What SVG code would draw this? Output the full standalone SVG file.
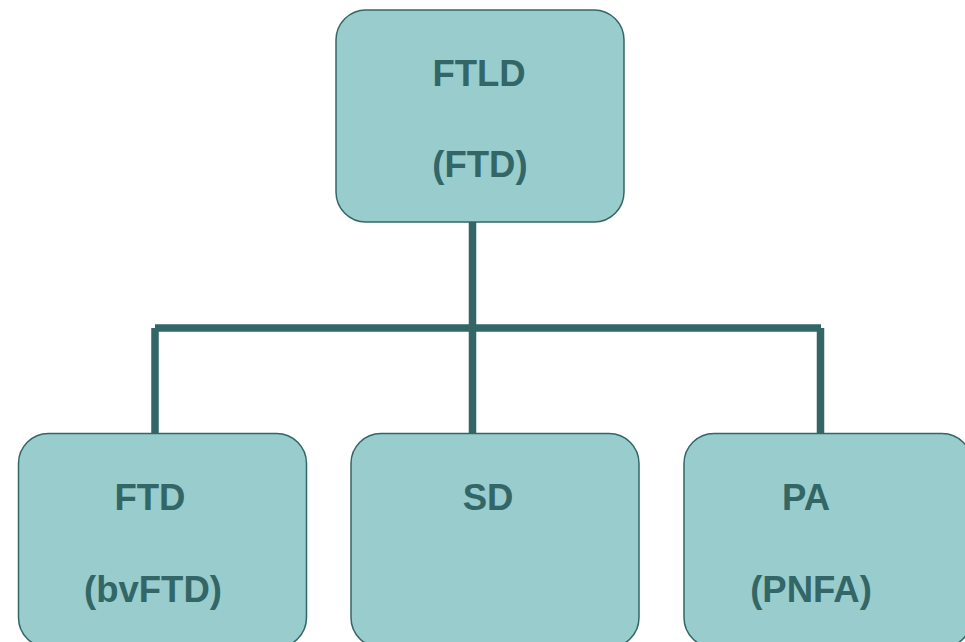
<svg xmlns="http://www.w3.org/2000/svg" width="965" height="642" viewBox="0 0 965 642">
<style>
.box{fill:#99CCCC;stroke:#336666;stroke-width:1.5}
.t{font-family:"Liberation Sans",Arial,sans-serif;font-weight:bold;font-size:36.5px;fill:#336666;text-anchor:middle}
.c{stroke:#336666;stroke-width:7.5;fill:none}
</style>
<rect width="965" height="642" fill="#ffffff"/>
<g id="connectors">
<line class="c" x1="472.5" y1="222" x2="472.5" y2="434"/>
<line class="c" x1="155" y1="328" x2="821" y2="328"/>
<line class="c" x1="155" y1="328" x2="155" y2="434"/>
<line class="c" x1="820.5" y1="328" x2="820.5" y2="434"/>
</g>
<g id="node-ftld">
<rect class="box" x="336" y="10" width="288" height="212" rx="30"/>
<text class="t" x="479" y="86">FTLD</text>
<text class="t" x="480" y="177">(FTD)</text>
</g>
<g id="node-ftd">
<rect class="box" x="18.5" y="433.5" width="288" height="214" rx="30"/>
<text class="t" x="150" y="510">FTD</text>
<text class="t" x="153" y="602">(bvFTD)</text>
</g>
<g id="node-sd">
<rect class="box" x="351" y="433.5" width="288" height="214" rx="30"/>
<text class="t" x="488" y="510">SD</text>
</g>
<g id="node-pa">
<rect class="box" x="684" y="433.5" width="288" height="214" rx="30"/>
<text class="t" x="806" y="510">PA</text>
<text class="t" x="811" y="602">(PNFA)</text>
</g>
</svg>
